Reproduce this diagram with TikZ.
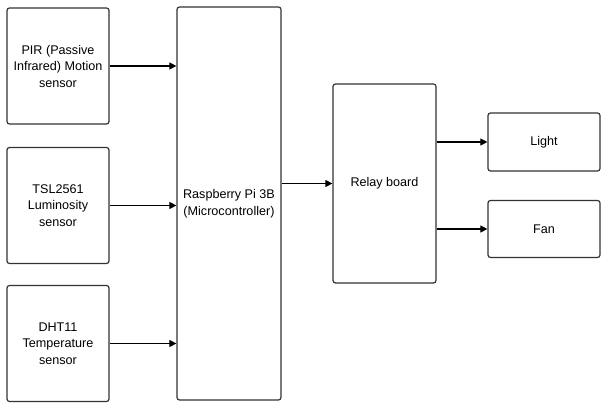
\documentclass[tikz,border=0pt]{standalone}
\usepackage{fontspec}
\setmainfont{Liberation Sans}
\usetikzlibrary{arrows.meta}
\tikzset{
  blk/.style={draw=black!80, line width=1.2pt, rounded corners=2.5pt, inner sep=0pt, align=center,
    font=\fontsize{12.6}{16.5}\selectfont},
  conn/.style={line width=1.1pt, -{Triangle[length=7pt,width=7pt]}}
}
\begin{document}
\begin{tikzpicture}[x=1pt,y=-1pt]
\useasboundingbox (0,0) rectangle (603,403);
\node[blk, minimum width=102pt, minimum height=116pt] (pir) at (58,66) {PIR (Passive\\Infrared) Motion\\sensor};
\node[blk, minimum width=102pt, minimum height=116pt] (tsl) at (58,205.5) {TSL2561\\Luminosity\\sensor};
\node[blk, minimum width=102pt, minimum height=116pt] (dht) at (58,343.5) {DHT11\\Temperature\\sensor};
\node[blk, minimum width=104pt, minimum height=393pt] (rpi) at (229,203.5) {Raspberry Pi 3B\\(Microcontroller)};
\node[blk, minimum width=103pt, minimum height=199pt] (relay) at (384.5,183.5) {Relay board};
\node[blk, minimum width=112pt, minimum height=58pt] (light) at (544,142) {Light};
\node[blk, minimum width=112pt, minimum height=57pt] (fan) at (544,229) {Fan};
\draw[conn] (pir.east) -- (rpi.west |- pir.east);
\draw[conn] (tsl.east) -- (rpi.west |- tsl.east);
\draw[conn] (dht.east) -- (rpi.west |- dht.east);
\draw[conn] (rpi.east |- relay.west) -- (relay.west);
\draw[conn] (relay.east |- light.west) -- (light.west);
\draw[conn] (relay.east |- fan.west) -- (fan.west);
\end{tikzpicture}
\end{document}
